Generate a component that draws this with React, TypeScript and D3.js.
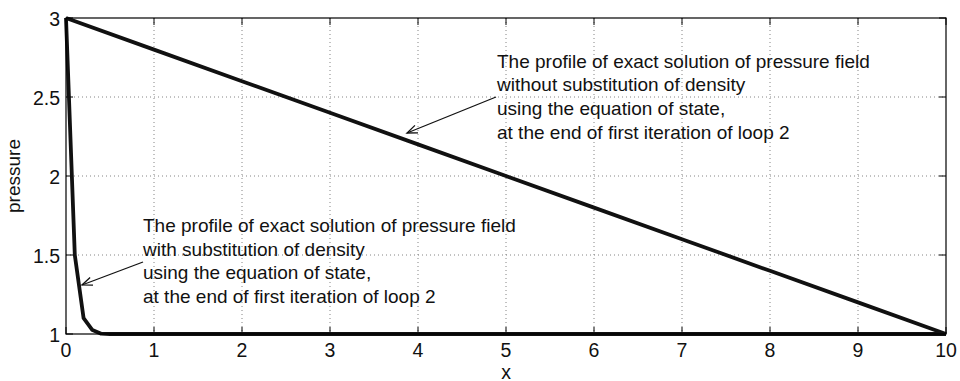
import React from "react";
import * as d3 from "d3";

// Sampled pressure profiles along x
const withSubX = [0, 0.1, 0.2, 0.3, 0.4, 0.5, 1, 2, 3, 4, 5, 6, 7, 8, 9, 10];
const withSubP = [3, 1.5, 1.1, 1.025, 1.002, 1.0, 1, 1, 1, 1, 1, 1, 1, 1, 1, 1];
const withoutSubX = [0, 1, 2, 3, 4, 5, 6, 7, 8, 9, 10];
const withoutSubP = [3, 2.8, 2.6, 2.4, 2.2, 2.0, 1.8, 1.6, 1.4, 1.2, 1.0];

const xTicks = [0, 1, 2, 3, 4, 5, 6, 7, 8, 9, 10];
const yTicks = [1, 1.5, 2, 2.5, 3];

const noteWithout = [
  "The profile of exact solution of pressure field",
  "without substitution of density",
  "using the equation of state,",
  "at the end of first iteration of loop 2",
];
const noteWith = [
  "The profile of exact solution of pressure field",
  "with substitution of density",
  "using the equation of state,",
  "at the end of first iteration of loop 2",
];

const W = 960;
const H = 381;
const left = 66;
const right = 946;
const top = 18;
const bottom = 334;
const font = "'Liberation Sans', Arial, Helvetica, sans-serif";

function Arrow({ x1, y1, x2, y2 }: { x1: number; y1: number; x2: number; y2: number }) {
  const ang = Math.atan2(y2 - y1, x2 - x1);
  const len = 11;
  const spread = 0.38;
  const a1 = ang + Math.PI - spread;
  const a2 = ang + Math.PI + spread;
  return (
    <g stroke="#111" strokeWidth={1.3} fill="none">
      <line x1={x1} y1={y1} x2={x2} y2={y2} />
      <polyline
        points={`${x2 + len * Math.cos(a1)},${y2 + len * Math.sin(a1)} ${x2},${y2} ${x2 + len * Math.cos(a2)},${y2 + len * Math.sin(a2)}`}
      />
    </g>
  );
}

export default function App() {
  const x = d3.scaleLinear().domain([0, 10]).range([left, right]);
  const y = d3.scaleLinear().domain([1, 3]).range([bottom, top]);

  const line = d3
    .line<[number, number]>()
    .x((d) => x(d[0]))
    .y((d) => y(d[1]));

  const withSub = withSubX.map((v, i) => [v, withSubP[i]] as [number, number]);
  const withoutSub = withoutSubX.map((v, i) => [v, withoutSubP[i]] as [number, number]);

  const lineGap = 23.7;

  return (
    <svg
      width={W}
      height={H}
      style={{ position: "absolute", left: 0, top: 0, background: "#fff" }}
      fontFamily={font}
    >
      <rect x={0} y={0} width={W} height={H} fill="#fff" />
      {/* grid */}
      <g stroke="#777" strokeWidth={0.9} strokeDasharray="1,3">
        {xTicks.slice(1, -1).map((t) => (
          <line key={"gx" + t} x1={x(t)} x2={x(t)} y1={top} y2={bottom} />
        ))}
        {yTicks.slice(1, -1).map((t) => (
          <line key={"gy" + t} x1={left} x2={right} y1={y(t)} y2={y(t)} />
        ))}
      </g>
      {/* ticks */}
      <g stroke="#000" strokeWidth={1}>
        {xTicks.map((t) => (
          <g key={"tx" + t}>
            <line x1={x(t)} x2={x(t)} y1={bottom} y2={bottom - 7} />
            <line x1={x(t)} x2={x(t)} y1={top} y2={top + 7} />
          </g>
        ))}
        {yTicks.map((t) => (
          <g key={"ty" + t}>
            <line x1={left} x2={left + 7} y1={y(t)} y2={y(t)} />
            <line x1={right} x2={right - 7} y1={y(t)} y2={y(t)} />
          </g>
        ))}
      </g>
      {/* tick labels */}
      <g fontSize={19.5} fill="#111">
        {xTicks.map((t) => (
          <text key={"lx" + t} x={x(t)} y={bottom + 22.5} textAnchor="middle">
            {t}
          </text>
        ))}
        {yTicks.map((t) => (
          <text key={"ly" + t} x={left - 6} y={y(t) + 7.5} textAnchor="end">
            {t}
          </text>
        ))}
      </g>
      <text x={(left + right) / 2} y={378.5} textAnchor="middle" fontSize={19.5} fill="#111">
        x
      </text>
      <text
        transform={`translate(20,${(top + bottom) / 2}) rotate(-90)`}
        textAnchor="middle"
        fontSize={19}
        fill="#111"
      >
        pressure
      </text>
      {/* profiles */}
      <path d={line(withoutSub) ?? ""} fill="none" stroke="#111" strokeWidth={3.8} strokeLinejoin="round" />
      <path d={line(withSub) ?? ""} fill="none" stroke="#111" strokeWidth={3.8} strokeLinejoin="round" />
      {/* frame */}
      <rect x={left} y={top} width={right - left} height={bottom - top} fill="none" stroke="#000" strokeWidth={1.2} />
      {/* annotations */}
      <g fontSize={19} fill="#111">
        {noteWithout.map((s, i) => (
          <text key={"n1" + i} x={497} y={67.5 + i * lineGap}>
            {s}
          </text>
        ))}
        {noteWith.map((s, i) => (
          <text key={"n2" + i} x={143} y={232 + i * lineGap}>
            {s}
          </text>
        ))}
      </g>
      <Arrow x1={496} y1={97} x2={407} y2={133} />
      <Arrow x1={143} y1={262} x2={82} y2={285} />
    </svg>
  );
}
